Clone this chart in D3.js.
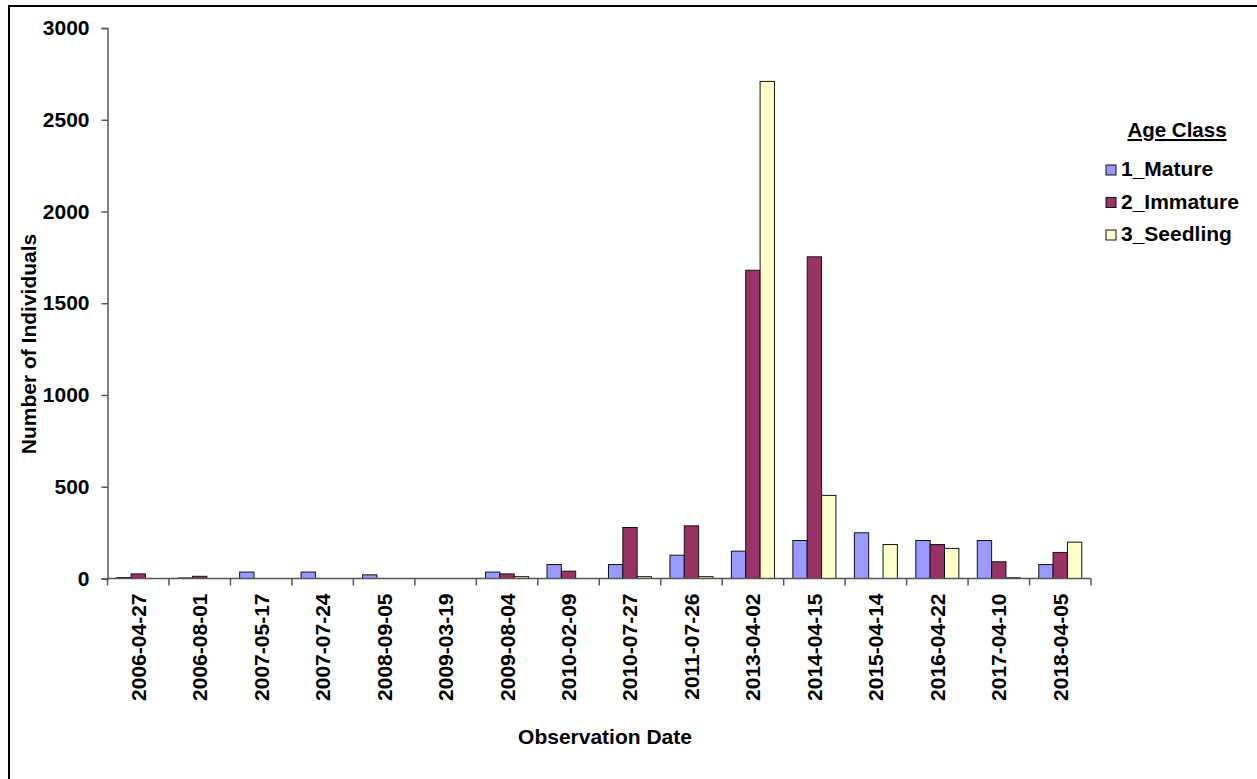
<!DOCTYPE html>
<html lang="en">
<head>
    <meta charset="UTF-8">
    <title>Age Class by Observation Date</title>
    <script src="https://d3js.org/d3.v7.min.js"></script>
    <style>
        body { margin: 0; background: #fff; }
        text { font-family: Arial, "Liberation Sans", sans-serif; font-weight: bold; fill: #000; }
    </style>
</head>
<body>
    <script>
        var dates = ["2006-04-27", "2006-08-01", "2007-05-17", "2007-07-24", "2008-09-05",
            "2009-03-19", "2009-08-04", "2010-02-09", "2010-07-27", "2011-07-26",
            "2013-04-02", "2014-04-15", "2015-04-14", "2016-04-22", "2017-04-10", "2018-04-05"];
        var seriesNames = ["1_Mature", "2_Immature", "3_Seedling"];
        var mature = [5, 3, 35, 35, 20, 0, 35, 76, 76, 127, 149, 207, 249, 207, 207, 76];
        var immature = [25, 12, 0, 0, 0, 0, 25, 40, 278, 287, 1680, 1753, 0, 185, 91, 142];
        var seedling = [0, 0, 0, 0, 0, 0, 10, 0, 10, 10, 2709, 453, 185, 164, 4, 198];
        var yTicks = [0, 500, 1000, 1500, 2000, 2500, 3000];
        var colors = ["#9999ff", "#993366", "#ffffcc"];

        var width = 1257, height = 779;
        var plotLeft = 107.5, plotRight = 1091, plotTop = 28, plotBottom = 578.5;

        var svg = d3.select("body").append("svg")
            .attr("width", width)
            .attr("height", height);

        // outer frame (right/bottom edges fall outside the picture)
        svg.append("rect")
            .attr("x", 9).attr("y", 6)
            .attr("width", 1260).attr("height", 790)
            .attr("fill", "none")
            .attr("stroke", "#000")
            .attr("stroke-width", 2);

        var x = d3.scaleBand().domain(dates).range([plotLeft, plotRight]).paddingInner(0.3).paddingOuter(0.15);
        var x0 = d3.scaleBand().domain(dates).range([plotLeft, plotRight]);
        var xs = d3.scaleBand().domain(seriesNames).range([0, x.bandwidth()]);
        var y = d3.scaleLinear().domain([0, 3000]).range([plotBottom, plotTop]);

        var allSeries = [mature, immature, seedling];
        var rows = [];
        dates.forEach(function (d, i) {
            seriesNames.forEach(function (s, j) {
                rows.push({ date: d, series: s, value: allSeries[j][i], color: colors[j] });
            });
        });

        svg.selectAll("rect.bar")
            .data(rows.filter(function (r) { return r.value > 0; }))
            .enter()
            .append("rect")
            .attr("class", "bar")
            .attr("x", function (r) { return x(r.date) + xs(r.series); })
            .attr("y", function (r) { return y(r.value); })
            .attr("width", xs.bandwidth())
            .attr("height", function (r) { return plotBottom - y(r.value); })
            .style("fill", function (r) { return r.color; })
            .style("stroke", "#111")
            .style("stroke-width", 1);

        // y axis
        var yAxis = svg.append("g")
            .attr("transform", "translate(" + plotLeft + ",0)")
            .call(d3.axisLeft(y).tickValues(yTicks).tickSize(6).tickPadding(12).tickFormat(d3.format("d")));
        yAxis.select(".domain").attr("stroke", "#555").attr("stroke-width", 1.5);
        yAxis.selectAll(".tick line").attr("stroke", "#555").attr("stroke-width", 1.5);
        yAxis.selectAll("text").style("font-size", "21px").attr("fill", "#000");

        // x axis: ticks at category boundaries
        var xAxis = svg.append("g").attr("transform", "translate(0," + plotBottom + ")");
        xAxis.append("line")
            .attr("x1", plotLeft).attr("x2", plotRight)
            .attr("stroke", "#555").attr("stroke-width", 1.5);
        xAxis.selectAll("line.tk")
            .data(dates.concat(["end"]))
            .enter()
            .append("line")
            .attr("class", "tk")
            .attr("x1", function (d, i) { return i < dates.length ? x0(d) : plotRight; })
            .attr("x2", function (d, i) { return i < dates.length ? x0(d) : plotRight; })
            .attr("y1", 0).attr("y2", 7)
            .attr("stroke", "#555").attr("stroke-width", 1.5);
        xAxis.selectAll("text")
            .data(dates)
            .enter()
            .append("text")
            .attr("transform", function (d) {
                return "translate(" + (x0(d) + x0.bandwidth() / 2 + 7.5) + ",15) rotate(-90)";
            })
            .attr("text-anchor", "end")
            .style("font-size", "21px")
            .text(function (d) { return d; });

        // axis titles
        svg.append("text")
            .attr("transform", "translate(36,344) rotate(-90)")
            .attr("text-anchor", "middle")
            .style("font-size", "21px")
            .text("Number of Individuals");
        svg.append("text")
            .attr("x", 605).attr("y", 744)
            .attr("text-anchor", "middle")
            .style("font-size", "21px")
            .text("Observation Date");

        // legend
        var legend = svg.append("g");
        legend.append("text")
            .attr("x", 1177).attr("y", 137)
            .attr("text-anchor", "middle")
            .style("font-size", "20.5px")
            .style("text-decoration", "underline")
            .text("Age Class");
        var items = legend.selectAll("g.item")
            .data(seriesNames)
            .enter()
            .append("g")
            .attr("class", "item")
            .attr("transform", function (d, i) { return "translate(1106," + (176 + i * 32.5) + ")"; });
        items.append("rect")
            .attr("x", 0).attr("y", -11)
            .attr("width", 10).attr("height", 10)
            .style("fill", function (d, i) { return colors[i]; })
            .style("stroke", "#111");
        items.append("text")
            .attr("x", 15).attr("y", 0)
            .style("font-size", "21px")
            .text(function (d) { return d; });
    </script>
</body>
</html>
